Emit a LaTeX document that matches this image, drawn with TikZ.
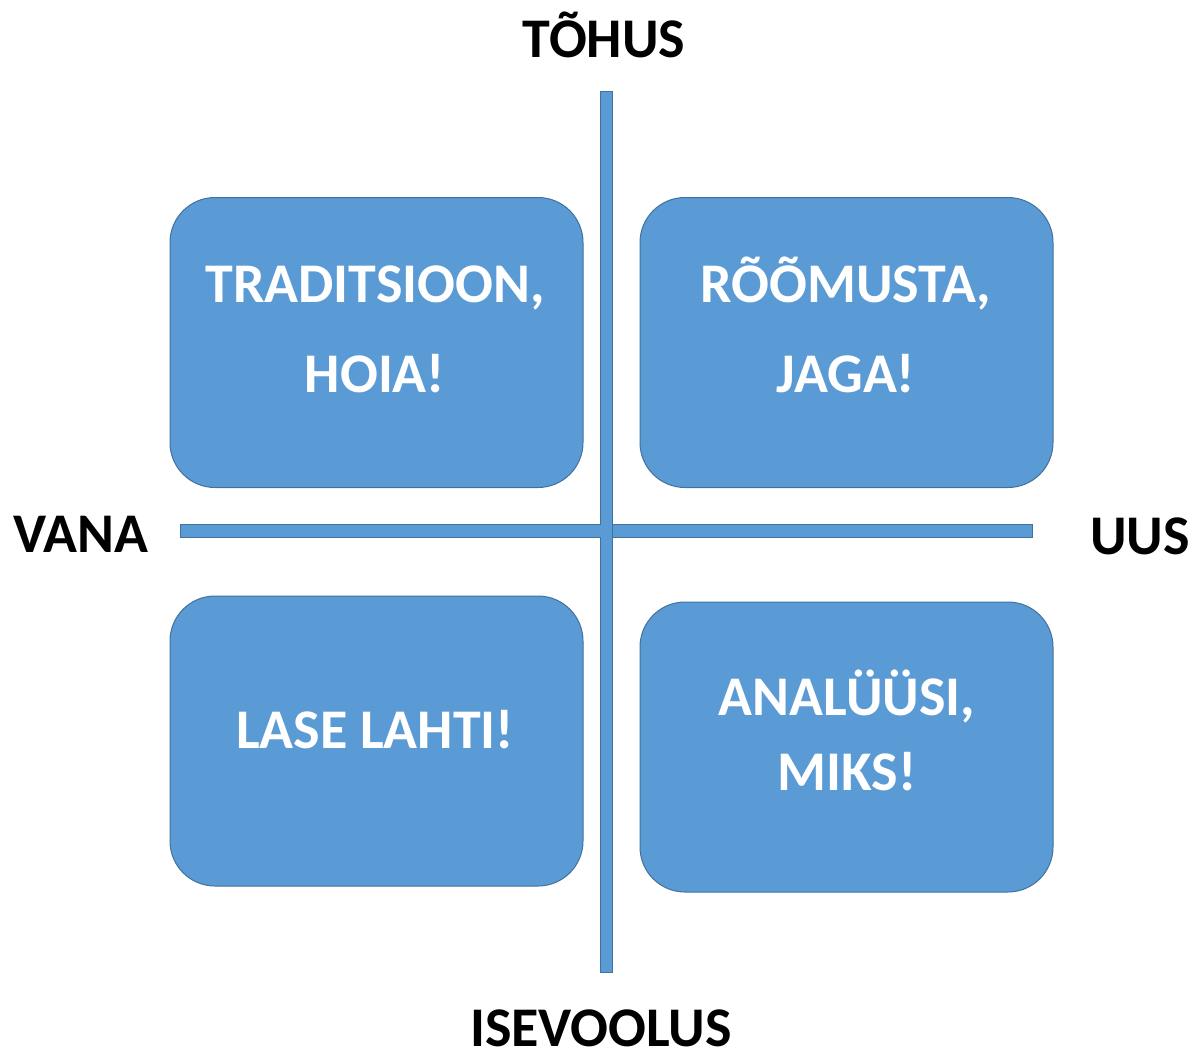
\documentclass[tikz,border=0pt]{standalone}
\usepackage{fontspec}
\setmainfont{Carlito}
\usetikzlibrary{calc}
\definecolor{boxblue}{HTML}{5B9BD5}
\definecolor{boxedge}{HTML}{41719C}

\begin{document}
\begin{tikzpicture}[x=1pt,y=-1pt,
  every node/.style={inner sep=0pt},
  quad/.style={draw=boxedge,line width=1pt,fill=boxblue,rounded corners=45pt,
    minimum width=413pt,minimum height=290pt},
  quadtext/.style={text=white,align=center,anchor=base},
  axislbl/.style={font=\fontsize{56}{60}\bfseries\selectfont,text=black,anchor=base},
  axis/.style={draw=boxedge,line width=0.8pt,fill=boxblue}]
\useasboundingbox (0,0) rectangle (1192,1061);

% axes
\coordinate (N) at (606,91);
\coordinate (S) at (606,972);
\coordinate (W) at (180,531);
\coordinate (E) at (1032,531);
\path[axis] ($(W)+(0,-6.5)$) rectangle ($(E)+(0,6.5)$);
\path[axis] ($(N)+(-6,0)$) rectangle ($(S)+(6,0)$);
\fill[boxblue] (600.4,525.4) rectangle (611.6,536.6);

% axis labels
\node[axislbl] (tohus) at (604,57) {TÕHUS};
\node[axislbl] (isevoolus) at (601,1046) {ISEVOOLUS};
\node[axislbl] (vana) at (81,552) {VANA};
\node[axislbl] (uus) at (1140,554) {UUS};

% quadrants
\node[quad] (trad) at (376.5,342.5) {};
\node[quad] (room) at (846.5,342.5) {};
\node[quad] (lase) at (376.5,741) {};
\node[quad] (anal) at (846.5,747) {};

% quadrant texts (anchored at the last line's baseline)
\node[quadtext,font=\fontsize{56}{90}\bfseries\selectfont] at (375,392) {TRADITSIOON,\\HOIA!};
\node[quadtext,font=\fontsize{56}{90}\bfseries\selectfont] at (846,392) {RÕÕMUSTA,\\JAGA!};
\node[quadtext,font=\fontsize{56}{90}\bfseries\selectfont] at (375,748) {LASE LAHTI!};
\node[quadtext,font=\fontsize{56}{75}\bfseries\selectfont] at (847,790) {ANALÜÜSI,\\MIKS!};
\end{tikzpicture}
\end{document}
